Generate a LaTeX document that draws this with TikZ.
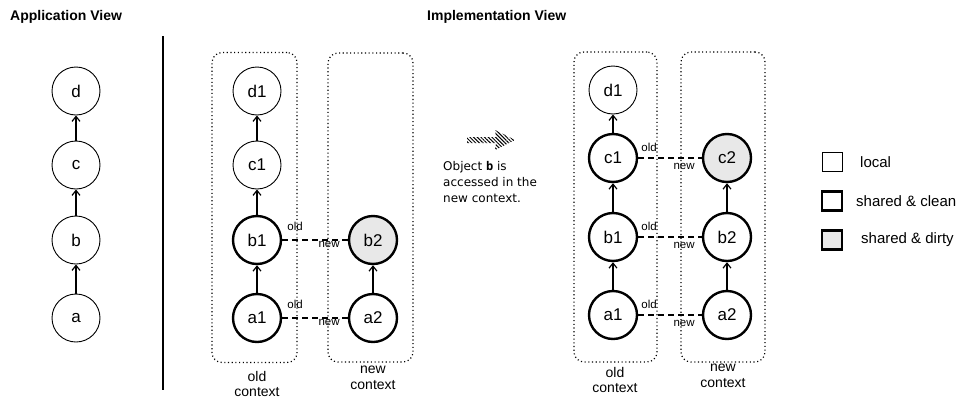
\documentclass[tikz,border=0pt]{standalone}
\usepackage{fontspec}
\setmainfont{Liberation Sans}
\newfontfamily\dejavu{DejaVu Sans}
\newfontfamily\dejavumono{DejaVu Sans Mono}
\usetikzlibrary{arrows.meta,patterns.meta}
\definecolor{dirtygray}{HTML}{E8E8E8}
\begin{document}
\begin{tikzpicture}[x=1pt,y=-1pt,
  obj/.style={circle, draw, minimum size=48pt, inner sep=0pt, font=\fontsize{17}{20}\selectfont},
  localobj/.style={obj, line width=0.9pt},
  sharedobj/.style={obj, line width=2.4pt},
  dirtyobj/.style={sharedobj, fill=dirtygray},
  uparrow/.style={-{Straight Barb[length=5pt,width=8pt]}, line width=1.2pt},
  link/.style={dash pattern=on 6pt off 4pt, line width=1.1pt},
  ctx/.style={draw, dash pattern=on 1.1pt off 2.6pt, rounded corners=10pt, line width=1.2pt, inner sep=0pt},
  tag/.style={font=\fontsize{11.5}{13}\selectfont, inner sep=0pt},
  ctxlabel/.style={font=\fontsize{14}{15.5}\selectfont, align=center, anchor=north, inner sep=0pt},
  title/.style={font=\bfseries\fontsize{14}{16}\selectfont, anchor=west, inner sep=0pt},
  legbox/.style={draw, minimum width=20pt, minimum height=19pt, inner sep=0pt},
  legtext/.style={font=\fontsize{15}{18}\selectfont, anchor=west, inner sep=0pt}
]
\useasboundingbox (0,0) rectangle (960,399);

% titles
\node[title] (titleApp) at (10,17) {Application View};
\node[title] (titleImpl) at (427,17) {Implementation View};

% separator
\coordinate (sepTop) at (163,36);
\coordinate (sepBot) at (163,390);
\draw[line width=1.3pt] (sepTop) -- (sepBot);

% application view
\node[localobj] (a) at (76,318) {a};
\node[localobj] (b) at (76,240) {b};
\node[localobj] (c) at (76,165) {c};
\node[localobj] (d) at (76,91) {d};
\draw[uparrow] (a) -- (b);
\draw[uparrow] (b) -- (c);
\draw[uparrow] (c) -- (d);

% implementation view, before
\node[ctx, minimum width=85pt, minimum height=310pt] (oldA) at (254.5,207.5) {};
\node[ctx, minimum width=85pt, minimum height=309pt] (newA) at (370.5,207.5) {};
\node[localobj] (d1A) at (257,91) {d1};
\node[localobj] (c1A) at (257,165) {c1};
\node[sharedobj] (b1A) at (257,240) {b1};
\node[sharedobj] (a1A) at (257,318) {a1};
\node[dirtyobj] (b2A) at (373,240) {b2};
\node[sharedobj] (a2A) at (373,318) {a2};
\draw[uparrow] (a1A) -- (b1A);
\draw[uparrow] (b1A) -- (c1A);
\draw[uparrow] (c1A) -- (d1A);
\draw[uparrow] (a2A) -- (b2A);
\draw[link] (b1A) -- (b2A);
\draw[link] (a1A) -- (a2A);
\node[tag, anchor=south west] at ([xshift=5pt,yshift=9pt]b1A.east) {old};
\node[tag, anchor=south west] at ([xshift=5pt,yshift=9pt]a1A.east) {old};
\node[tag, anchor=north east] at ([xshift=-8pt,yshift=-1pt]b2A.west) {new};
\node[tag, anchor=north east] at ([xshift=-8pt,yshift=-1pt]a2A.west) {new};
\node[ctxlabel] (oldAlbl) at (257,371) {old\\context};
\node[ctxlabel] (newAlbl) at (373,366) {new\\context};

% hatched arrow and note
\path[pattern={Lines[angle=-45,distance=2.6pt,line width=1pt]}]
  (467,137) -- (496,137) -- (495,130) -- (515,140) -- (495,150) -- (496,143) -- (467,143) -- cycle;
\node[anchor=north west, align=left, inner sep=0pt, font=\dejavu\fontsize{12}{16}\selectfont] (note) at (443,161)
  {Object {\dejavumono\bfseries b} is\\accessed in the\\new context.};

% implementation view, after
\node[ctx, minimum width=83pt, minimum height=310pt] (oldB) at (615.5,207) {};
\node[ctx, minimum width=84pt, minimum height=310pt] (newB) at (723,207) {};
\node[localobj] (d1B) at (613,90) {d1};
\node[sharedobj] (c1B) at (613,158) {c1};
\node[sharedobj] (b1B) at (613,237) {b1};
\node[sharedobj] (a1B) at (613,315) {a1};
\node[dirtyobj] (c2B) at (727,158) {c2};
\node[sharedobj] (b2B) at (727,237) {b2};
\node[sharedobj] (a2B) at (727,315) {a2};
\draw[uparrow] (a1B) -- (b1B);
\draw[uparrow] (b1B) -- (c1B);
\draw[uparrow] (c1B) -- (d1B);
\draw[uparrow] (a2B) -- (b2B);
\draw[uparrow] (b2B) -- (c2B);
\draw[link] (c1B) -- (c2B);
\draw[link] (b1B) -- (b2B);
\draw[link] (a1B) -- (a2B);
\foreach \n in {c1B,b1B,a1B} {
  \node[tag, anchor=south west] at ([xshift=3pt,yshift=6pt]\n.east) {old};
}
\foreach \n in {c2B,b2B,a2B} {
  \node[tag, anchor=north east] at ([xshift=-7pt,yshift=-5pt]\n.west) {new};
}
\node[ctxlabel] (oldBlbl) at (615,367) {old\\context};
\node[ctxlabel] (newBlbl) at (723,364) {new\\context};

% legend
\node[legbox, line width=0.9pt] (legLocal) at (832,162) {};
\node[legbox, line width=2.4pt] (legClean) at (832,201) {};
\node[legbox, line width=2.4pt, fill=dirtygray] (legDirty) at (832,240) {};
\node[legtext] (legLocalTxt) at (860,162) {local};
\node[legtext] (legCleanTxt) at (856,201) {shared \& clean};
\node[legtext] (legDirtyTxt) at (861,240) {shared \& dirty};
\end{tikzpicture}
\end{document}
